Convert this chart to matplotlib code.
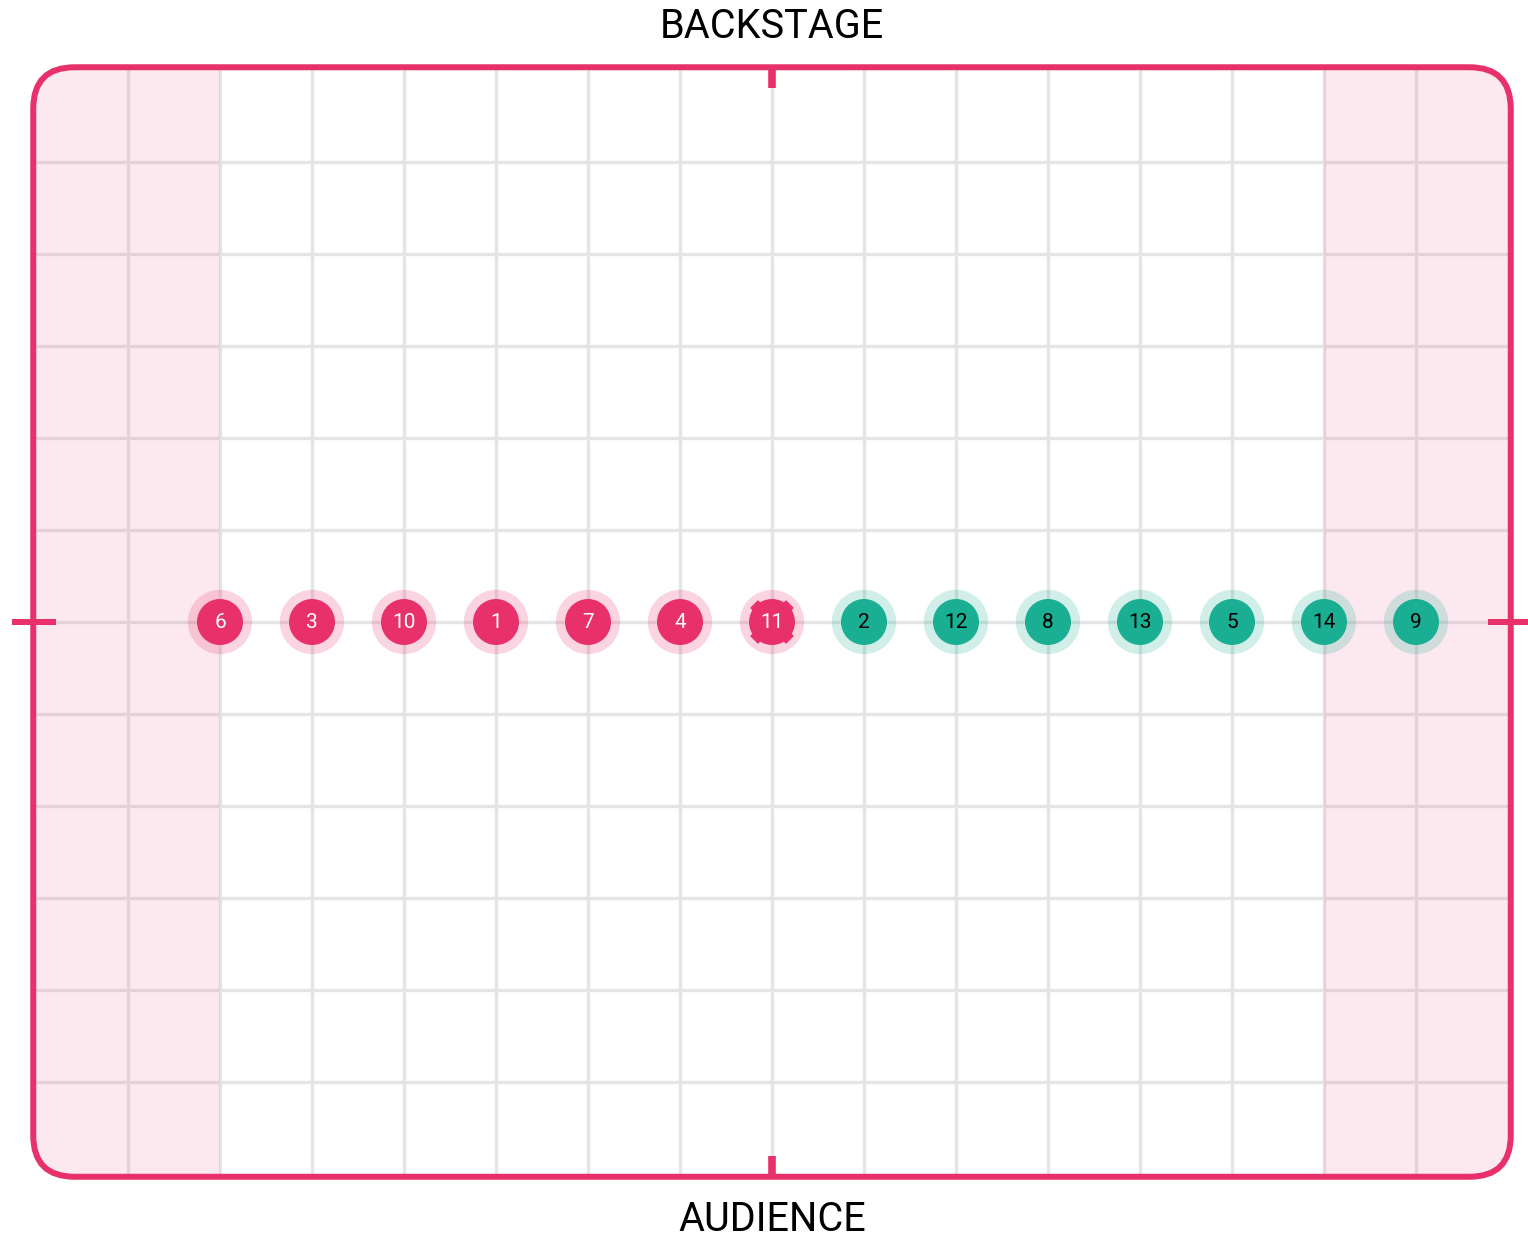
import numpy as np
import matplotlib.pyplot as plt
from matplotlib.patches import Circle, FancyBboxPatch, Rectangle

plt.rcParams['font.family'] = ['Roboto', 'DejaVu Sans']

# performers on the stage line, left to right
labels = ['6', '3', '10', '1', '7', '4', '11', '2', '12', '8', '13', '5', '14', '9']
xpos = [-6, -5, -4, -3, -2, -1, 0, 1, 2, 3, 4, 5, 6, 7]
ypos = [0] * 14
team = ['a'] * 7 + ['b'] * 7
selected = '11'

pink = '#E8306A'
teal = '#1AAE92'
grid_c = '#E5E5E5'

fig = plt.figure(figsize=(15.28, 12.4), dpi=100)
ax = fig.add_axes([0, 0, 1, 1])
ax.set_xlim(-772 / 92, (1528 - 772) / 92)
ax.set_ylim((622 - 1240) / 92, 622 / 92)
ax.set_aspect('equal')
ax.axis('off')

W, H = 8.03, 6.03

# stage outline, also used to clip grid and wings
clip = FancyBboxPatch((-W, -H), 2 * W, 2 * H, boxstyle='round,pad=0,rounding_size=0.45',
                      fc='none', ec='none', transform=ax.transData)
ax.add_patch(clip)

# grid
for gx in range(-7, 8):
    l, = ax.plot([gx, gx], [-H, H], c=grid_c, lw=2.4, zorder=1)
    l.set_clip_path(clip)
for gy in range(-5, 6):
    l, = ax.plot([-W, W], [gy, gy], c=grid_c, lw=2.4, zorder=1)
    l.set_clip_path(clip)

# wings
for wx in [-W, 6]:
    r = Rectangle((wx, -H), 2.03, 2 * H, color=pink, alpha=0.1, lw=0, zorder=2)
    ax.add_patch(r)
    r.set_clip_path(clip)

# stage border
ax.add_patch(FancyBboxPatch((-W, -H), 2 * W, 2 * H, boxstyle='round,pad=0,rounding_size=0.45',
                            fc='none', ec=pink, lw=4.3, zorder=5))
ax.plot([0, 0], [H, H - 0.23], c=pink, lw=5.5, solid_capstyle='butt', zorder=5)
ax.plot([0, 0], [-H, -H + 0.23], c=pink, lw=5.5, solid_capstyle='butt', zorder=5)
ax.plot([-8.26, -W + 0.25], [0, 0], c=pink, lw=4.3, solid_capstyle='butt', zorder=5)
ax.plot([W - 0.25, 8.26], [0, 0], c=pink, lw=4.3, solid_capstyle='butt', zorder=5)

ax.text(0, 6.47, 'BACKSTAGE', ha='center', va='center', fontsize=28.5)
ax.text(0, -6.49, 'AUDIENCE', ha='center', va='center', fontsize=28.5)

for lab, x, y, t in zip(labels, xpos, ypos, team):
    c = pink if t == 'a' else teal
    ax.add_patch(Circle((x, y), 0.35, color=c, alpha=0.2, lw=0, zorder=6))
    ax.add_patch(Circle((x, y), 0.25, color=c, lw=0, zorder=7))
    ax.text(x, y, lab, ha='center', va='center', fontsize=15,
            color='white' if t == 'a' else 'black', zorder=8)
    if lab == selected:
        for a in np.deg2rad([45, 135, 225, 315]):
            cx, cy = 0.25 * np.cos(a) + x, 0.25 * np.sin(a) + y
            dx, dy = -np.sin(a) * 0.06, np.cos(a) * 0.06
            ax.plot([cx - dx, cx + dx], [cy - dy, cy + dy], c=pink, lw=3.5,
                    solid_capstyle='butt', zorder=7)

fig.savefig('out.png', dpi=100)
